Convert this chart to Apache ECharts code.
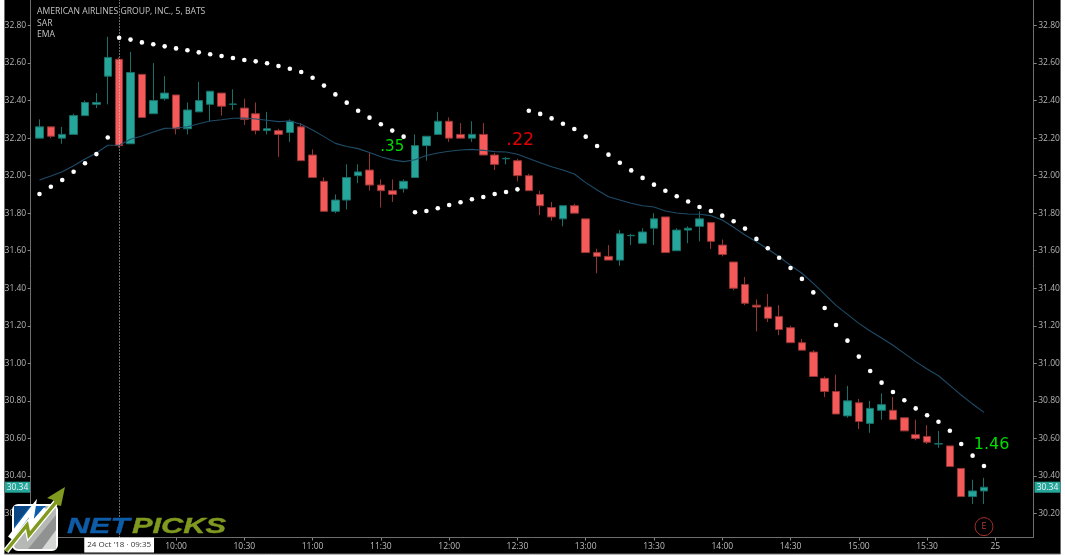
<!DOCTYPE html>
<html><head><meta charset="utf-8">
<script src="https://cdn.jsdelivr.net/npm/echarts@6/dist/echarts.min.js"></script>
<style>html,body{margin:0;padding:0;background:#fff}#c{width:1065px;height:555px}</style>
</head><body><div id="c"></div>
<script>
const categories = [
"09:00","09:05","09:10","09:15","09:20","09:25","09:30","09:35","09:40","09:45","09:50","09:55",
"10:00","10:05","10:10","10:15","10:20","10:25","10:30","10:35","10:40","10:45","10:50","10:55",
"11:00","11:05","11:10","11:15","11:20","11:25","11:30","11:35","11:40","11:45","11:50","11:55",
"12:00","12:05","12:10","12:15","12:20","12:25","12:30","12:35","12:40","12:45","12:50","12:55",
"13:00","13:05","13:10","13:15","13:20","13:25","13:30","13:35","13:40","13:45","13:50","13:55",
"14:00","14:05","14:10","14:15","14:20","14:25","14:30","14:35","14:40","14:45","14:50","14:55",
"15:00","15:05","15:10","15:15","15:20","15:25","15:30","15:35","15:40","15:45","15:50","15:55",
"25","+1","+2","+3"];
const xTickLabels = ["10:00","10:30","11:00","11:30","12:00","12:30","13:00","13:30","14:00","14:30","15:00","15:30","25"];
const yTickLabels = [30.2,30.4,30.6,30.8,31,31.2,31.4,31.6,31.8,32,32.2,32.4,32.6,32.8];
const headerLines = ["AMERICAN AIRLINES GROUP, INC., 5, BATS","SAR","EMA"];
const crosshairCategory = "09:35";
const crosshairLabel = "24 Oct '18 \u00b7 09:35";
const lastPrice = 30.34;

const opens = [32.20,32.26,32.20,32.22,32.32,32.38,32.53,32.62,32.17,32.54,32.33,32.41,32.43,32.25,32.34,32.38,32.44,32.38,32.36,32.33,32.24,32.24,32.23,32.26,32.11,31.97,31.81,31.87,32.00,32.03,31.95,31.92,31.93,31.99,32.16,32.22,32.29,32.22,32.20,32.22,32.11,32.09,32.08,32.00,31.90,31.83,31.77,31.84,31.77,31.59,31.57,31.55,31.68,31.64,31.72,31.78,31.60,31.71,31.73,31.75,31.63,31.54,31.42,31.31,31.30,31.25,31.19,31.11,31.06,30.92,30.85,30.72,30.79,30.68,30.75,30.75,30.71,30.62,30.61,30.57,30.56,30.44,30.29,30.32];
const closes = [32.26,32.21,32.22,32.32,32.39,32.39,32.63,32.16,32.55,32.31,32.40,32.44,32.25,32.35,32.40,32.45,32.37,32.382,32.30,32.24,32.25,32.22,32.29,32.08,31.99,31.81,31.87,31.99,32.02,31.95,31.92,31.90,31.97,32.16,32.21,32.29,32.20,32.20,32.22,32.11,32.06,32.092,32.00,31.92,31.84,31.78,31.84,31.80,31.59,31.57,31.55,31.69,31.682,31.70,31.77,31.59,31.71,31.72,31.77,31.65,31.58,31.40,31.32,31.30,31.24,31.18,31.11,31.07,30.93,30.85,30.73,30.80,30.69,30.76,30.78,30.70,30.64,30.60,30.58,30.572,30.45,30.29,30.32,30.34];
const highs = [32.30,32.26,32.26,32.33,32.40,32.44,32.74,32.63,32.66,32.54,32.60,32.53,32.43,32.39,32.50,32.45,32.44,32.46,32.41,32.39,32.34,32.25,32.30,32.28,32.14,31.99,31.90,32.06,32.06,32.12,31.98,31.98,31.98,32.22,32.21,32.34,32.31,32.28,32.29,32.28,32.12,32.10,32.09,32.01,31.92,31.86,31.84,31.85,31.77,31.61,31.63,31.71,31.69,31.72,31.80,31.78,31.72,31.73,31.81,31.75,31.66,31.54,31.46,31.34,31.37,31.31,31.20,31.13,31.07,30.93,30.94,30.88,30.81,30.80,30.84,30.82,30.71,30.70,30.67,30.64,30.56,30.44,30.38,30.39];
const lows = [32.20,32.20,32.17,32.22,32.32,32.36,32.38,32.15,32.17,32.31,32.33,32.40,32.22,32.22,32.34,32.29,32.32,32.35,32.27,32.22,32.22,32.10,32.18,32.08,31.99,31.81,31.80,31.82,31.96,31.92,31.83,31.86,31.91,31.99,32.08,32.22,32.18,32.20,32.18,32.11,32.03,32.06,31.97,31.92,31.79,31.76,31.73,31.80,31.59,31.48,31.55,31.52,31.63,31.64,31.63,31.59,31.60,31.64,31.65,31.61,31.57,31.39,31.31,31.17,31.22,31.15,31.11,31.07,30.93,30.82,30.73,30.71,30.65,30.63,30.70,30.70,30.64,30.59,30.57,30.55,30.45,30.29,30.25,30.25];
const sar = [31.902,31.941,31.977,32.021,32.066,32.115,32.203,32.735,32.725,32.710,32.700,32.689,32.678,32.668,32.657,32.647,32.638,32.627,32.616,32.609,32.599,32.584,32.570,32.552,32.522,32.480,32.433,32.389,32.346,32.309,32.274,32.240,32.208,31.805,31.812,31.826,31.844,31.858,31.874,31.886,31.902,31.913,31.927,32.346,32.329,32.305,32.277,32.249,32.208,32.158,32.112,32.069,32.028,31.988,31.952,31.920,31.890,31.862,31.833,31.812,31.787,31.757,31.718,31.663,31.613,31.563,31.508,31.450,31.378,31.295,31.204,31.121,31.036,30.959,30.897,30.847,30.803,30.760,30.723,30.689,30.641,30.570,30.508,30.453];
const ema = [31.977,31.998,32.021,32.053,32.089,32.121,32.162,32.162,32.194,32.211,32.233,32.252,32.254,32.261,32.277,32.291,32.298,32.306,32.307,32.302,32.295,32.288,32.291,32.274,32.243,32.208,32.172,32.155,32.144,32.123,32.101,32.084,32.075,32.085,32.107,32.121,32.130,32.137,32.140,32.135,32.128,32.126,32.114,32.092,32.069,32.048,32.030,32.009,31.963,31.924,31.888,31.870,31.853,31.840,31.833,31.812,31.801,31.796,31.794,31.787,31.764,31.725,31.684,31.648,31.609,31.568,31.522,31.480,31.426,31.368,31.309,31.261,31.213,31.172,31.135,31.096,31.053,31.009,30.970,30.934,30.883,30.831,30.783,30.739];
const annotationText = [".35",".22","1.46"];
const annotationCategory = ["11:35","12:30","25"];
const annotationPrice = [32.15,32.19,30.568];
const earningsCategory = "15:55";
const earningsPrice = 30.13;

const candles = opens.map((o,i)=>[o,closes[i],lows[i],highs[i]]);
const labelFont = '"Open Sans", sans-serif';
const chart = echarts.init(document.getElementById('c'),null,{renderer:'canvas'});
const frameColor = '#6e6e6e';

function baseOption(extraGraphic){
  return {
    animation:false,
    backgroundColor:'#fff',
    grid:{left:33.8,right:29.8,top:0,height:537.5,containLabel:false},
    title:{text:headerLines.join('\n'),left:32,top:1,textStyle:{color:'#c4c4c4',fontFamily:labelFont,fontSize:8.6,fontWeight:'normal',lineHeight:11.5}},
    xAxis:{type:'category',data:categories,boundaryGap:true,
      axisLine:{show:false},
      axisTick:{show:true,alignWithLabel:true,length:3,lineStyle:{color:'#888'},interval:(i,v)=>xTickLabels.includes(v)},
      axisLabel:{color:'#bdbdbd',fontFamily:labelFont,fontSize:8.5,margin:5,interval:(i,v)=>xTickLabels.includes(v)},
      splitLine:{show:false}},
    yAxis:[
      {type:'value',position:'left',offset:3.1,min:30.072,max:32.936,scale:true,
       axisLine:{show:true,lineStyle:{color:frameColor}},
       axisTick:{show:true,length:3,lineStyle:{color:'#888'},customValues:yTickLabels},
       axisLabel:{color:'#b4b4b4',fontFamily:labelFont,fontSize:8.5,margin:4.5,customValues:yTickLabels,formatter:v=>v.toFixed(2)},
       splitLine:{show:false}},
      {type:'value',position:'right',offset:-1.5,min:30.072,max:32.936,scale:true,
       axisLine:{show:true,onZero:false,lineStyle:{color:frameColor}},
       axisTick:{show:true,length:3,lineStyle:{color:'#888'},customValues:yTickLabels},
       axisLabel:{color:'#b4b4b4',fontFamily:labelFont,fontSize:8.5,margin:4.5,customValues:yTickLabels,formatter:v=>v.toFixed(2)},
       splitLine:{show:false}}
    ],
    series:[
      {type:'candlestick',name:'AAL',data:candles,barWidth:8,
       itemStyle:{color:'#26a69a',color0:'#f55a5a',borderColor:'#187068',borderColor0:'#963434',borderWidth:1},
       markLine:{silent:true,symbol:'none',animation:false,
         lineStyle:{color:'#d8d8d8',type:[1,2],width:1},
         label:{show:true,position:'start',formatter:crosshairLabel,color:'#333',fontFamily:labelFont,fontSize:8,backgroundColor:'#fff',padding:[3.5,3,3.5,3],distance:0},
         data:[{xAxis:crosshairCategory}]}},
      {type:'line',name:'EMA',data:ema,showSymbol:false,smooth:false,lineStyle:{color:'#1f4c68',width:1.1},z:3,
       markPoint:{silent:true,symbol:'circle',symbolSize:0,animation:false,
         data:annotationText.map((t,i)=>({name:t,coord:[annotationCategory[i],annotationPrice[i]],
           label:{show:true,position:'inside',formatter:t,fontFamily:'"DejaVu Sans"',
             fontSize:[15,17.5,16][i],color:i===1?'#e00000':'#00dd00',offset:[[0,0],[2.8,0],[-3.7,0]][i]}})).concat([
           {name:'E',coord:[earningsCategory,earningsPrice],symbol:'circle',symbolSize:18,
            itemStyle:{color:'rgba(0,0,0,0)',borderColor:'#a03030',borderWidth:1},
            label:{show:true,position:'inside',formatter:'E',color:'#b04040',fontFamily:labelFont,fontSize:9}}])}},
      {type:'scatter',name:'SAR',data:sar,symbol:'circle',symbolSize:4.6,itemStyle:{color:'#fff',opacity:1},z:4}
    ],
    graphic:[
      {type:'rect',z:-10,shape:{x:4.5,y:-3,width:1056,height:557},style:{fill:'#000',stroke:frameColor,lineWidth:1}},
      {type:'line',z:1,shape:{x1:30.7,y1:537.5,x2:1033.7,y2:537.5},style:{stroke:frameColor,lineWidth:1}},
      // logo
      {type:'rect',z:100,shape:{x:13,y:505,width:44,height:45,r:5},style:{fill:'#b5b8b5',stroke:'#fff',lineWidth:2}},
      {type:'polygon',z:101,shape:{points:[[14,506],[46,506],[14,545]]},style:{fill:'#0d5ca8'}},
      {type:'polygon',z:101,shape:{points:[[14,506],[30,506],[14,526]]},style:{fill:'#0a4684'}},
      {type:'polygon',z:101,shape:{points:[[56,515],[56,549],[28,549]]},style:{fill:'#8f9290'}},
      {type:'polygon',z:101,shape:{points:[[56,530],[56,549],[42,549]]},style:{fill:'#d5d8d5'}},
      {type:'polyline',z:102,shape:{points:[[10,538],[33,508],[30,527],[46,509]]},style:{stroke:'#fff',lineWidth:5,fill:null}},
      {type:'polyline',z:102,shape:{points:[[6,551],[27,525],[29,535],[57,501]]},style:{stroke:'#fff',lineWidth:6,fill:null}},
      {type:'polyline',z:103,shape:{points:[[6,551],[27,525],[29,535],[57,501]]},style:{stroke:'#7f9a1f',lineWidth:3.5,fill:null}},
      {type:'polygon',z:103,shape:{points:[[65,487],[47,498],[53,500],[57,505],[61,506]]},style:{fill:'#7f9a1f'}},
      {type:'text',z:104,x:67,y:516,scaleX:1.42,style:{text:'NET',font:'italic bold 22px "Liberation Sans"',fill:'#0d5ca8',stroke:'#0d5ca8',lineWidth:.4,textVerticalAlign:'top'}},
      {type:'text',z:104,x:132,y:516,scaleX:1.4,style:{text:'PICKS',font:'italic bold 22px "Liberation Sans"',fill:'#7f9a1f',stroke:'#7f9a1f',lineWidth:.4,textVerticalAlign:'top'}}
    ].concat(extraGraphic||[])
  };
}
chart.setOption(baseOption());
const py = chart.convertToPixel({yAxisIndex:0},lastPrice);
function priceTag(x,w){
  return [
    {type:'rect',z:50,shape:{x:x,y:py-5.5,width:w,height:11},style:{fill:'#26a69a'}},
    {type:'text',z:51,x:x+w/2,y:py,style:{text:lastPrice.toFixed(2),fill:'#e8f5f3',font:'8.5px "Open Sans"',textAlign:'center',textVerticalAlign:'middle'}}
  ];
}
chart.setOption(baseOption(priceTag(5,25).concat(priceTag(1034.5,26))));
</script></body></html>
